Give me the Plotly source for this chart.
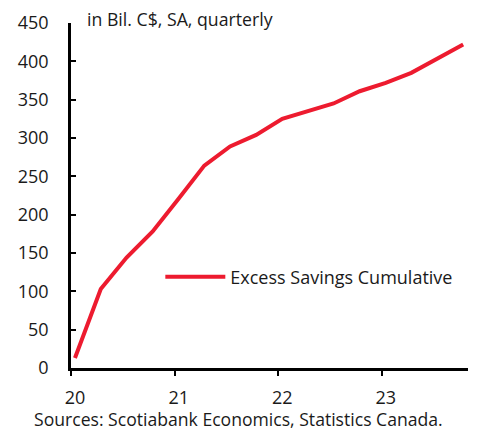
import plotly.graph_objects as go

# Quarterly cumulative excess savings, billions of C$ (SA)
quarters = [
    "2020-01-15", "2020-04-15", "2020-07-15", "2020-10-15",
    "2021-01-15", "2021-04-15", "2021-07-15", "2021-10-15",
    "2022-01-15", "2022-04-15", "2022-07-15", "2022-10-15",
    "2023-01-15", "2023-04-15", "2023-07-15", "2023-10-15",
]
excess_savings = [13, 103, 144, 178, 221, 264, 289, 304,
                  325, 335, 345, 361, 372, 385, 404, 422]

series_name = "Excess Savings Cumulative"
unit_note = "in Bil. C$, SA, quarterly"
source_note = "Sources: Scotiabank Economics, Statistics Canada."

x_tick_vals = ["2020-01-01", "2021-01-01", "2022-01-01", "2023-01-01"]
x_tick_text = ["20", "21", "22", "23"]
y_tick_vals = [0, 50, 100, 150, 200, 250, 300, 350, 400, 450]

RED = "#ED1B2F"
INK = "#1a1a1a"
FONT = "Open Sans"

fig = go.Figure()
fig.add_trace(go.Scatter(
    x=quarters, y=excess_savings, mode="lines", name=series_name,
    line=dict(color=RED, width=4),
))

fig.update_layout(
    width=478, height=431,
    margin=dict(l=71, r=10, t=14, b=63),
    paper_bgcolor="white", plot_bgcolor="white",
    font=dict(family=FONT, size=17.7, color=INK),
    showlegend=True,
    legend=dict(
        x=0.225, y=0.2635, xanchor="left", yanchor="middle",
        bgcolor="rgba(0,0,0,0)", itemwidth=60,
        font=dict(family=FONT, size=18, color=INK),
    ),
    xaxis=dict(
        type="date", range=["2020-01-01", "2023-11-01"],
        tickvals=x_tick_vals, ticktext=x_tick_text,
        ticks="outside", ticklen=5, tickwidth=2, tickcolor="black",
        showline=True, linecolor="black", linewidth=2.5,
        showgrid=False, zeroline=False, ticklabelshift=4,
        ticklabelstandoff=7,
        tickfont=dict(family=FONT, size=18, color=INK),
    ),
    yaxis=dict(
        range=[0, 450], tickvals=y_tick_vals,
        ticks="inside", ticklen=5, tickwidth=2, tickcolor="black",
        showline=True, linecolor="black", linewidth=2.5,
        showgrid=False, zeroline=False, ticklabelstandoff=16,
        tickfont=dict(family=FONT, size=18, color=INK),
    ),
    annotations=[
        dict(text=unit_note, xref="paper", yref="paper", x=0.035, y=1.012,
             xanchor="left", yanchor="middle", showarrow=False,
             font=dict(family=FONT, size=17.7, color=INK)),
        dict(text=source_note, xref="paper", yref="paper", x=-0.098, y=-0.149,
             xanchor="left", yanchor="middle", showarrow=False,
             font=dict(family=FONT, size=17.6, color=INK)),
    ],
)

fig.write_html("out.html")
